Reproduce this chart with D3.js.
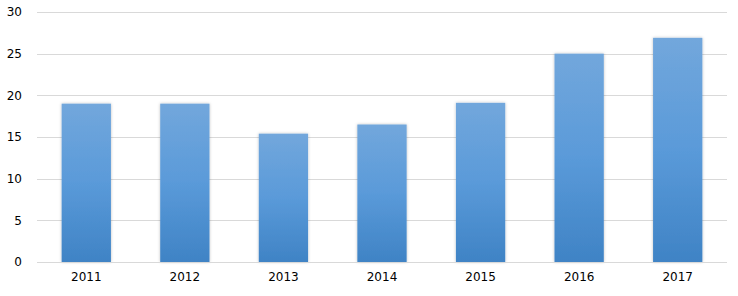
<!DOCTYPE html>
<html>
<head>
<meta charset="utf-8">
<script src="https://cdn.jsdelivr.net/npm/d3@7"></script>
<style>
  body { margin: 0; background: #fff; }
  text { font-family: "DejaVu Sans", Verdana, sans-serif; font-size: 12px; fill: #000; }
</style>
</head>
<body>
<div id="chart"></div>
<script>
const years = ["2011", "2012", "2013", "2014", "2015", "2016", "2017"];
const values = [19.0, 19.0, 15.4, 16.5, 19.1, 25.0, 26.9];
const yTicks = [0, 5, 10, 15, 20, 25, 30];

const W = 738, H = 296;
const margin = { top: 12, right: 11, bottom: 34, left: 37 };
const width = W - margin.left - margin.right,
    height = H - margin.top - margin.bottom;

const svg = d3.select("#chart").append("svg")
    .attr("width", W)
    .attr("height", H);

const defs = svg.append("defs");
const grad = defs.append("linearGradient")
    .attr("id", "barGrad")
    .attr("x1", 0).attr("y1", 0).attr("x2", 0).attr("y2", 1);
grad.append("stop").attr("offset", "0%").attr("stop-color", "#72a7dc");
grad.append("stop").attr("offset", "50%").attr("stop-color", "#5a9ad9");
grad.append("stop").attr("offset", "100%").attr("stop-color", "#3f83c5");

const shadow = defs.append("filter").attr("id", "shadow")
    .attr("x", "-20%").attr("y", "-10%").attr("width", "140%").attr("height", "120%");
shadow.append("feDropShadow")
    .attr("dx", 0).attr("dy", 0).attr("stdDeviation", 1.5)
    .attr("flood-color", "#000").attr("flood-opacity", 0.25);

const g = svg.append("g").attr("transform", `translate(${margin.left},${margin.top})`);

const x = d3.scaleBand().domain(years).range([0, width]).paddingInner(0.5).paddingOuter(0.25);
const y = d3.scaleLinear().domain([0, 30]).range([height, 0]);

// gridlines
g.append("g").selectAll("line")
    .data(yTicks.filter(d => d > 0))
    .enter().append("line")
    .attr("x1", 0).attr("x2", width)
    .attr("y1", d => Math.round(y(d)) + 0.5).attr("y2", d => Math.round(y(d)) + 0.5)
    .attr("stroke", "#d9d9d9").attr("stroke-width", 1);

// y tick labels
const yAxis = g.append("g").call(d3.axisLeft(y).tickValues(yTicks).tickSize(0).tickPadding(15));
yAxis.select(".domain").remove();
yAxis.selectAll("text").style("font-size", "12px").attr("fill", "#000");

// bars
g.append("g").selectAll("rect")
    .data(values)
    .enter().append("rect")
    .attr("x", (d, i) => x(years[i]))
    .attr("y", d => y(d))
    .attr("width", x.bandwidth())
    .attr("height", d => height - y(d))
    .attr("fill", "url(#barGrad)")
    .attr("filter", "url(#shadow)");

// baseline
g.append("line")
    .attr("x1", 0).attr("x2", width)
    .attr("y1", height + 0.5).attr("y2", height + 0.5)
    .attr("stroke", "#d9d9d9");

// x axis labels
const xAxis = g.append("g").attr("transform", `translate(0,${height})`)
    .call(d3.axisBottom(x).tickSize(0).tickPadding(10));
xAxis.select(".domain").remove();
xAxis.selectAll("text").style("font-size", "12px").attr("fill", "#000");
</script>
</body>
</html>
